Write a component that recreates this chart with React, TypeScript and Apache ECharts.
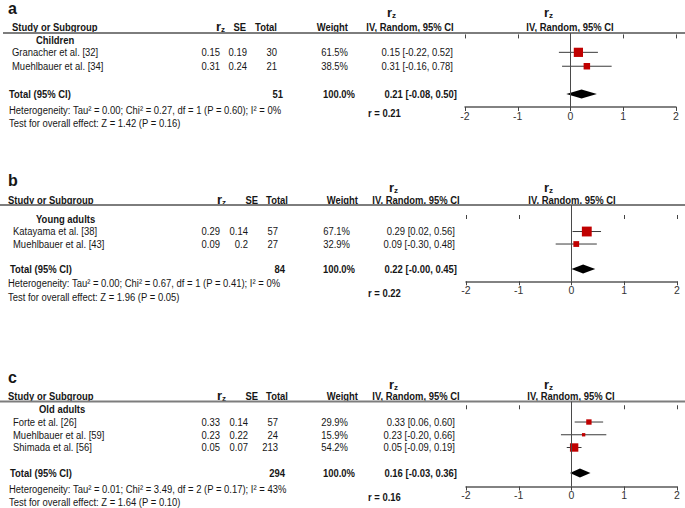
import React, { useEffect, useRef } from "react";
import * as echarts from "echarts";

// ---------------- data ----------------
const panelLabels = ["a", "b", "c"];
const subgroupNames = ["Children", "Young adults", "Old adults"];

const studiesA = ["Granacher et al. [32]", "Muehlbauer et al. [34]"];
const rzA = [0.15, 0.31];
const seA = [0.19, 0.24];
const nA = [30, 21];
const weightA = [61.5, 38.5];
const lowA = [-0.22, -0.16];
const highA = [0.52, 0.78];

const studiesB = ["Katayama et al. [38]", "Muehlbauer et al. [43]"];
const rzB = [0.29, 0.09];
const seB = [0.14, 0.2];
const nB = [57, 27];
const weightB = [67.1, 32.9];
const lowB = [0.02, -0.3];
const highB = [0.56, 0.48];

const studiesC = ["Forte et al. [26]", "Muehlbauer et al. [59]", "Shimada et al. [56]"];
const rzC = [0.33, 0.23, 0.05];
const seC = [0.14, 0.22, 0.07];
const nC = [57, 24, 213];
const weightC = [29.9, 15.9, 54.2];
const lowC = [0.06, -0.2, -0.09];
const highC = [0.6, 0.66, 0.19];

const pooledEst = [0.21, 0.22, 0.16];
const pooledLow = [-0.08, -0.0, -0.03];
const pooledHigh = [0.5, 0.45, 0.36];
const pooledN = [51, 84, 294];
const rValues = [0.21, 0.22, 0.16];
const heterogeneity = [
  "Heterogeneity: Tau² = 0.00; Chi² = 0.27, df = 1 (P = 0.60); I² = 0%",
  "Heterogeneity: Tau² = 0.00; Chi² = 0.67, df = 1 (P = 0.41); I² = 0%",
  "Heterogeneity: Tau² = 0.01; Chi² = 3.49, df = 2 (P = 0.17); I² = 43%",
];
const overallTests = [
  "Test for overall effect: Z = 1.42 (P = 0.16)",
  "Test for overall effect: Z = 1.96 (P = 0.05)",
  "Test for overall effect: Z = 1.64 (P = 0.10)",
];
const xTicks = [-2, -1, 0, 1, 2];

const panels = [
  { names: studiesA, rz: rzA, se: seA, n: nA, w: weightA, lo: lowA, hi: highA },
  { names: studiesB, rz: rzB, se: seB, n: nB, w: weightB, lo: lowB, hi: highB },
  { names: studiesC, rz: rzC, se: seC, n: nC, w: weightC, lo: lowC, hi: highC },
];

// ---------------- layout ----------------
const layout = [
  {
    lineY: 33, axisY: 107, gridLeft: 465, yMin: -0.39, yMax: 4.93, headingRow: 0.15,
    hetOff: 1.16, testOff: 2.1, rOff: 1.37,
    labelY: 8, headY: 27, rzTopY: 13,
    lineX1: 3, studyHeadX: 12, nameX: 12, totalX: 9, hetX: 9, headingX: 36,
    rzR: 220, seR: 247, totR: 277, totBoldR: 283, wR: 348, wTotR: 355, ciR: 453, ciTotR: 457,
    rzHeadX: 216, seHeadR: 246, totHeadR: 277, wHeadR: 348, ciHeadC: 410, rzTopC: 390,
    plotHeadC: 570, plotRzC: 547, rX: 368,
  },
  {
    lineY: 205, axisY: 281.3, gridLeft: 466, yMin: -1.12, yMax: 4.98, headingRow: 0,
    hetOff: 1.12, testOff: 2.24, rOff: 1.92,
    labelY: 180, headY: 200, rzTopY: 188,
    lineX1: 0, studyHeadX: 8, nameX: 13, totalX: 10, hetX: 8, headingX: 36,
    rzR: 220, seR: 248, totR: 278, totBoldR: 285, wR: 350, wTotR: 355, ciR: 455, ciTotR: 457,
    rzHeadX: 217, seHeadR: 258, totHeadR: 288, wHeadR: 358, ciHeadC: 416, rzTopC: 392,
    plotHeadC: 572, plotRzC: 547, rX: 368,
  },
  {
    lineY: 401.5, axisY: 486.5, gridLeft: 466, yMin: -0.61, yMax: 6.06, headingRow: 0,
    hetOff: 1.28, testOff: 2.3, rOff: 1.9,
    labelY: 377, headY: 396, rzTopY: 385,
    lineX1: 0, studyHeadX: 8, nameX: 13, totalX: 10, hetX: 9, headingX: 39,
    rzR: 220, seR: 248, totR: 278, totBoldR: 285, wR: 348, wTotR: 355, ciR: 455, ciTotR: 457,
    rzHeadX: 217, seHeadR: 258, totHeadR: 288, wHeadR: 358, ciHeadC: 416, rzTopC: 392,
    plotHeadC: 571, plotRzC: 547, rX: 368,
  },
];

const FONT = '"Liberation Sans", Arial, Helvetica, sans-serif';
const FS = 11;
const SX = 0.86;
const TXT = "#161616";

function fmt(v: number): string {
  const neg = v < 0 || Object.is(v, -0);
  return (neg ? "-" : "") + Math.abs(v).toFixed(2);
}
function ci(e: number, lo: number, hi: number): string {
  return `${fmt(e)} [${fmt(lo)}, ${fmt(hi)}]`;
}

type Cell = { t: string; x: number; a: "left" | "right" | "center"; b?: boolean };
type Row = { row: number; cells: Cell[] };

function buildRows(p: number): Row[] {
  const L = layout[p];
  const d = panels[p];
  const rows: Row[] = [];
  rows.push({ row: L.headingRow, cells: [{ t: subgroupNames[p], x: L.headingX, a: "left", b: true }] });
  d.names.forEach((name, i) => {
    rows.push({
      row: i + 1,
      cells: [
        { t: name, x: L.nameX, a: "left" },
        { t: String(d.rz[i]), x: L.rzR, a: "right" },
        { t: String(d.se[i]), x: L.seR, a: "right" },
        { t: String(d.n[i]), x: L.totR, a: "right" },
        { t: d.w[i].toFixed(1) + "%", x: L.wR, a: "right" },
        { t: ci(d.rz[i], d.lo[i], d.hi[i]), x: L.ciR, a: "right" },
      ],
    });
  });
  const tr = d.names.length + 2;
  const wSum = d.w.reduce((s, v) => s + v, 0);
  rows.push({
    row: tr,
    cells: [
      { t: "Total (95% CI)", x: L.totalX, a: "left", b: true },
      { t: String(pooledN[p]), x: L.totBoldR, a: "right", b: true },
      { t: wSum.toFixed(1) + "%", x: L.wTotR, a: "right", b: true },
      { t: ci(pooledEst[p], pooledLow[p], pooledHigh[p]), x: L.ciTotR, a: "right", b: true },
    ],
  });
  rows.push({ row: tr + L.hetOff, cells: [{ t: heterogeneity[p], x: L.hetX, a: "left" }] });
  rows.push({ row: tr + L.testOff, cells: [{ t: overallTests[p], x: L.hetX, a: "left" }] });
  rows.push({ row: tr + L.rOff, cells: [{ t: "r = " + rValues[p].toFixed(2), x: L.rX, a: "left", b: true }] });
  return rows;
}

function txt(t: string, x: number, y: number, align: string, bold: boolean, size = FS, sx = SX) {
  return {
    type: "text",
    x,
    y,
    scaleX: sx,
    silent: true,
    style: {
      text: t,
      fill: TXT,
      fontFamily: FONT,
      fontSize: size,
      fontWeight: bold ? "bold" : "normal",
      align,
      verticalAlign: "middle",
    },
  };
}

function rzLabel(x: number, y: number) {
  // "r" with subscript "z"
  return [
    txt("r", x, y - 1, "left", true, 13, 1),
    txt("z", x + 5, y + 2.5, "left", true, 8, 1),
  ];
}

function buildOption() {
  const grids: any[] = [];
  const xAxes: any[] = [];
  const yAxes: any[] = [];
  const series: any[] = [];
  const graphics: any[] = [];

  layout.forEach((L, p) => {
    const d = panels[p];
    grids.push({ left: L.gridLeft, top: L.lineY, width: 211, height: L.axisY - L.lineY, containLabel: false });
    const baseX = {
      gridIndex: p,
      type: "value",
      min: xTicks[0],
      max: xTicks[xTicks.length - 1],
      interval: 1,
      position: "bottom",
      offset: 0,
      splitLine: { show: false },
    };
    xAxes.push({
      ...baseX,
      axisLine: { show: true, onZero: false, lineStyle: { color: "#5a5a5a", width: 1.5 } },
      axisTick: { show: true, length: 4, lineStyle: { color: "#444", width: 1 } },
      axisLabel: { show: true, fontSize: 10.5, color: "#333", fontFamily: FONT, margin: 3 },
    });
    xAxes.push({
      ...baseX,
      axisLine: { show: false },
      axisTick: { show: true, inside: true, length: 4, lineStyle: { color: "#444", width: 1 } },
      axisLabel: { show: false },
    });
    yAxes.push({
      gridIndex: p,
      type: "value",
      inverse: true,
      min: L.yMin,
      max: L.yMax,
      show: false,
      splitLine: { show: false },
    });

    const studyData = d.names.map((_, i) => [d.rz[i], d.lo[i], d.hi[i], i + 1, d.w[i]]);
    series.push({
      type: "custom",
      xAxisIndex: 2 * p,
      yAxisIndex: p,
      silent: true,
      encode: { x: [0, 1, 2], y: 3 },
      data: studyData,
      renderItem: (params: any, api: any) => {
        const row = api.value(3);
        const pe = api.coord([api.value(0), row]);
        const xl = api.coord([api.value(1), row])[0];
        const xh = api.coord([api.value(2), row])[0];
        const s = 0.42 * Math.pow(api.value(4), 0.75);
        const y = pe[1];
        return {
          type: "group",
          children: [
            { type: "line", shape: { x1: xl, y1: y, x2: xh, y2: y }, style: { stroke: "#3a3a3a", lineWidth: 1 } },
            { type: "rect", shape: { x: pe[0] - s / 2, y: y - s / 2, width: s, height: s }, style: { fill: "#c00000" } },
          ],
        };
      },
      markLine: {
        silent: true,
        symbol: ["none", "none"],
        label: { show: false },
        lineStyle: { color: "#4a4a4a", width: 1, type: "solid" },
        data: [{ xAxis: 0 }],
      },
      z: 3,
    });

    const tr = d.names.length + 2;
    series.push({
      type: "custom",
      xAxisIndex: 2 * p,
      yAxisIndex: p,
      silent: true,
      encode: { x: [0, 1, 2], y: 3 },
      data: [[pooledEst[p], pooledLow[p], pooledHigh[p], tr]],
      renderItem: (params: any, api: any) => {
        const row = api.value(3);
        const pe = api.coord([api.value(0), row]);
        const xl = api.coord([api.value(1), row])[0];
        const xh = api.coord([api.value(2), row])[0];
        const h = 4.5;
        return {
          type: "polygon",
          shape: { points: [[xl, pe[1]], [pe[0], pe[1] - h], [xh, pe[1]], [pe[0], pe[1] + h]] },
          style: { fill: "#000" },
        };
      },
      z: 4,
    });

    const rows = buildRows(p);
    series.push({
      type: "custom",
      xAxisIndex: 2 * p,
      yAxisIndex: p,
      silent: true,
      clip: false,
      encode: { x: 0, y: 1 },
      data: rows.map((r) => [0, r.row]),
      renderItem: (params: any, api: any) => {
        const r = rows[params.dataIndex];
        const y = api.coord([0, api.value(1)])[1];
        return {
          type: "group",
          children: r.cells.map((c) => txt(c.t, c.x, y, c.a, !!c.b)),
        };
      },
      z: 5,
    });

    // header graphics
    graphics.push(txt(panelLabels[p], 8, L.labelY, "left", true, 16, 1));
    graphics.push(txt("Study or Subgroup", L.studyHeadX, L.headY, "left", true));
    graphics.push(...rzLabel(L.rzHeadX, L.headY));
    graphics.push(txt("SE", L.seHeadR, L.headY, "right", true));
    graphics.push(txt("Total", L.totHeadR, L.headY, "right", true));
    graphics.push(txt("Weight", L.wHeadR, L.headY, "right", true));
    graphics.push(...rzLabel(L.rzTopC - 3, L.rzTopY));
    graphics.push(txt("IV, Random, 95% CI", L.ciHeadC, L.headY, "center", true));
    graphics.push(...rzLabel(L.plotRzC - 3, L.rzTopY));
    graphics.push(txt("IV, Random, 95% CI", L.plotHeadC, L.headY, "center", true));
    graphics.push({
      type: "line",
      silent: true,
      shape: { x1: L.lineX1, y1: L.lineY, x2: 685, y2: L.lineY },
      style: { stroke: "#7d7d7d", lineWidth: 2 },
      z: 1,
    });
  });

  return {
    animation: false,
    backgroundColor: "#ffffff",
    grid: grids,
    xAxis: xAxes,
    yAxis: yAxes,
    series,
    graphic: { elements: graphics },
  };
}

export default function App() {
  const ref = useRef<HTMLDivElement>(null);
  useEffect(() => {
    if (!ref.current) return;
    const chart = echarts.init(ref.current, undefined, { renderer: "svg" });
    chart.setOption(buildOption() as any);
    return () => chart.dispose();
  }, []);
  return (
    <div
      ref={ref}
      style={{ position: "fixed", left: 0, top: 0, width: 685, height: 508, background: "#fff" }}
    />
  );
}
